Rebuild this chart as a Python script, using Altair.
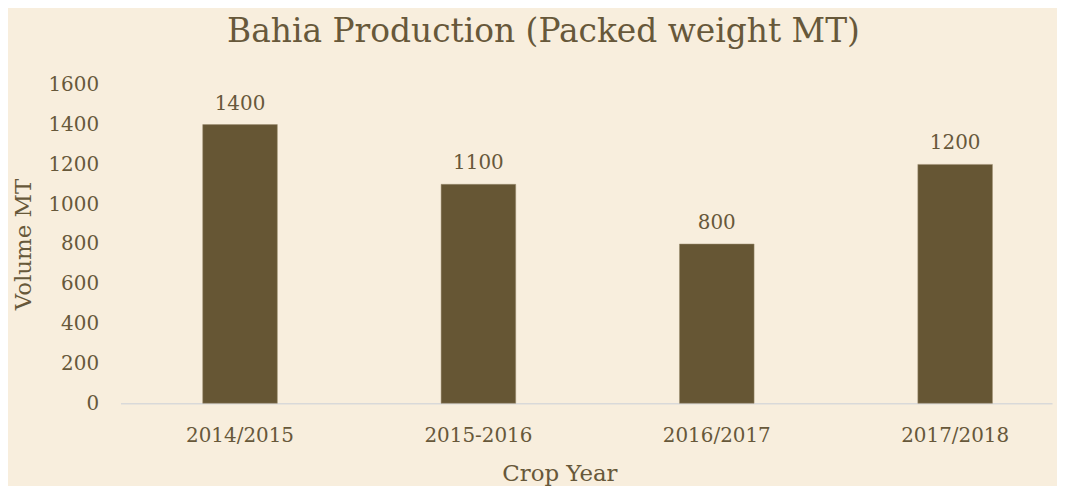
import altair as alt
import pandas as pd

years = ["2014/2015", "2015-2016", "2016/2017", "2017/2018"]
volumes = [1400, 1100, 800, 1200]
y_ticks = [0, 200, 400, 600, 800, 1000, 1200, 1400, 1600]

df = pd.DataFrame({"year": years, "volume": volumes})

TEXT = "#67583A"
BAR = "#665634"
BG = "#F8EEDD"
FONT = "DejaVu Serif"

x = alt.X("year:N", sort=years, title="Crop Year",
          scale=alt.Scale(paddingInner=0.687, paddingOuter=0.2975, align=0.58),
          axis=alt.Axis(labelAngle=0, ticks=False, labelPadding=22, titlePadding=18,
                        titleX=441, titleAnchor="start", titleAlign="center",
                        domainColor="#D9D9D9", domainWidth=1.5,
                        labelFontSize=20, titleFontSize=23, labelColor=TEXT, titleColor=TEXT,
                        labelFont=FONT, titleFont=FONT, titleFontWeight="normal"))
y = alt.Y("volume:Q", title="Volume MT",
          scale=alt.Scale(domain=[0, 1600]),
          axis=alt.Axis(values=y_ticks, format="d", labelOverlap=False, grid=False,
                        domain=False, ticks=False,
                        labelPadding=22, titlePadding=12,
                        labelFontSize=20, titleFontSize=23, labelColor=TEXT, titleColor=TEXT,
                        labelFont=FONT, titleFont=FONT, titleFontWeight="normal"))

base = alt.Chart(df).encode(x=x, y=y)
bars = base.mark_bar(color=BAR, stroke="#9C8E72", strokeWidth=0.5)
labels = base.mark_text(dy=-21, baseline="middle", fontSize=20, color=TEXT,
                        font=FONT).encode(text="volume:Q")

chart = (bars + labels).properties(
    width=936, height=320, background=BG,
    title=alt.TitleParams("Bahia Production (Packed weight MT)", fontSize=33, font=FONT,
                          fontWeight="normal", color=TEXT, anchor="middle", frame="bounds",
                          offset=26, dx=11),
    padding={"left": 5, "right": 5, "top": 7, "bottom": 5},
).configure_view(stroke=None).configure_axis(labelOverlap=False)

chart.save("out.html", embed_options={"renderer": "svg", "actions": False})
